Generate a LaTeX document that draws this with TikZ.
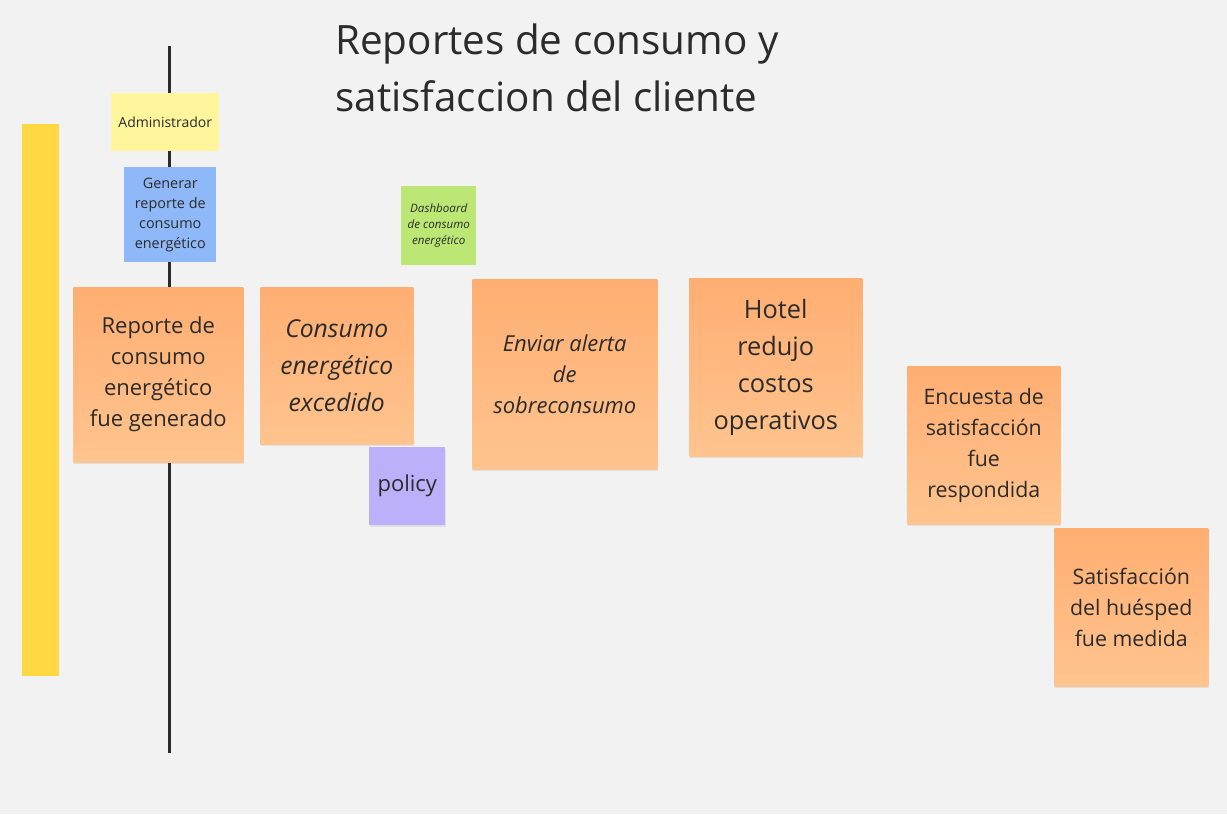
\documentclass[tikz,border=0pt]{standalone}
\usepackage{fontspec}
\setmainfont{Open Sans}
\usetikzlibrary{shadows}
\definecolor{boardbg}{HTML}{F2F2F2}
\definecolor{lanebar}{HTML}{FFD943}
\definecolor{actorcol}{HTML}{FFF59C}
\definecolor{cmdcol}{HTML}{8FB8F8}
\definecolor{viewcol}{HTML}{BCE774}
\definecolor{evtop}{HTML}{FFAE72}
\definecolor{evbot}{HTML}{FFC48F}
\definecolor{policycol}{HTML}{BCB0FA}
\definecolor{inkcol}{HTML}{2B2B2B}
\begin{document}
\begin{tikzpicture}[x=0.75pt, y=-0.75pt,
  size/.style 2 args={minimum width=#1*0.75pt, minimum height=#2*0.75pt},
  sticky/.style={anchor=north west, inner sep=0pt, align=center, text=inkcol},
  soft/.style={drop shadow={shadow xshift=0.6pt, shadow yshift=-1.6pt, fill=black, opacity=0.07}},
  event/.style={sticky, soft, top color=evtop, bottom color=evbot}]
\useasboundingbox[fill=boardbg] (0,0) rectangle (1227,814);

% swimlane bar and timeline
\fill[lanebar] (22,124) rectangle (59,676);
\coordinate (ltop) at (169.5,46);
\coordinate (lbot) at (169.5,753);
\draw[inkcol, line width=2.2pt] (ltop) -- (lbot);

% title
\node[anchor=north west, align=left, inner sep=0pt, text=inkcol,
  font=\fontsize{30.3}{42.75}\selectfont] (title) at (335,24)
  {Reportes de consumo y\\satisfaccion del cliente};

% actor, command, view
\node[sticky, fill=actorcol, size={108}{58},
  font=\fontsize{10.5}{15}\selectfont] (actor) at (111,93) {Administrador};
\node[sticky, fill=cmdcol, size={92}{95},
  font=\fontsize{10.8}{15}\selectfont] (cmd) at (124,167)
  {Generar\\reporte de\\consumo\\energético};
\node[sticky, fill=viewcol, size={75}{79},
  font=\fontsize{8.7}{12}\selectfont\itshape] (view) at (401,186)
  {Dashboard\\de consumo\\energético};

% events
\node[event, size={170}{175},
  font=\fontsize{16.5}{23.25}\selectfont] (ev1) at (73,287)
  {Reporte de\\consumo\\energético\\fue generado};
\node[event, size={153}{157},
  font=\fontsize{18.5}{28}\selectfont\itshape] (ev2) at (260,287)
  {Consumo\\energético\\excedido};
\node[sticky, soft, fill=policycol, size={76}{78},
  font=\fontsize{16.5}{23}\selectfont] (pol) at (369,447) {policy};
\node[event, size={185}{190},
  font=\fontsize{16.5}{23}\selectfont\itshape] (ev3) at (472,279)
  {Enviar alerta\\de\\sobreconsumo};
\node[event, size={173}{178},
  font=\fontsize{19}{27.75}\selectfont] (ev4) at (689,278)
  {Hotel\\redujo\\costos\\operativos};
\node[event, size={153}{158},
  font=\fontsize{16}{23.25}\selectfont] (ev5) at (907,366)
  {Encuesta de\\satisfacción\\fue\\respondida};
\node[event, size={154}{158},
  font=\fontsize{16}{23}\selectfont] (ev6) at (1054,528)
  {Satisfacción\\del huésped\\fue medida};

\end{tikzpicture}
\end{document}
